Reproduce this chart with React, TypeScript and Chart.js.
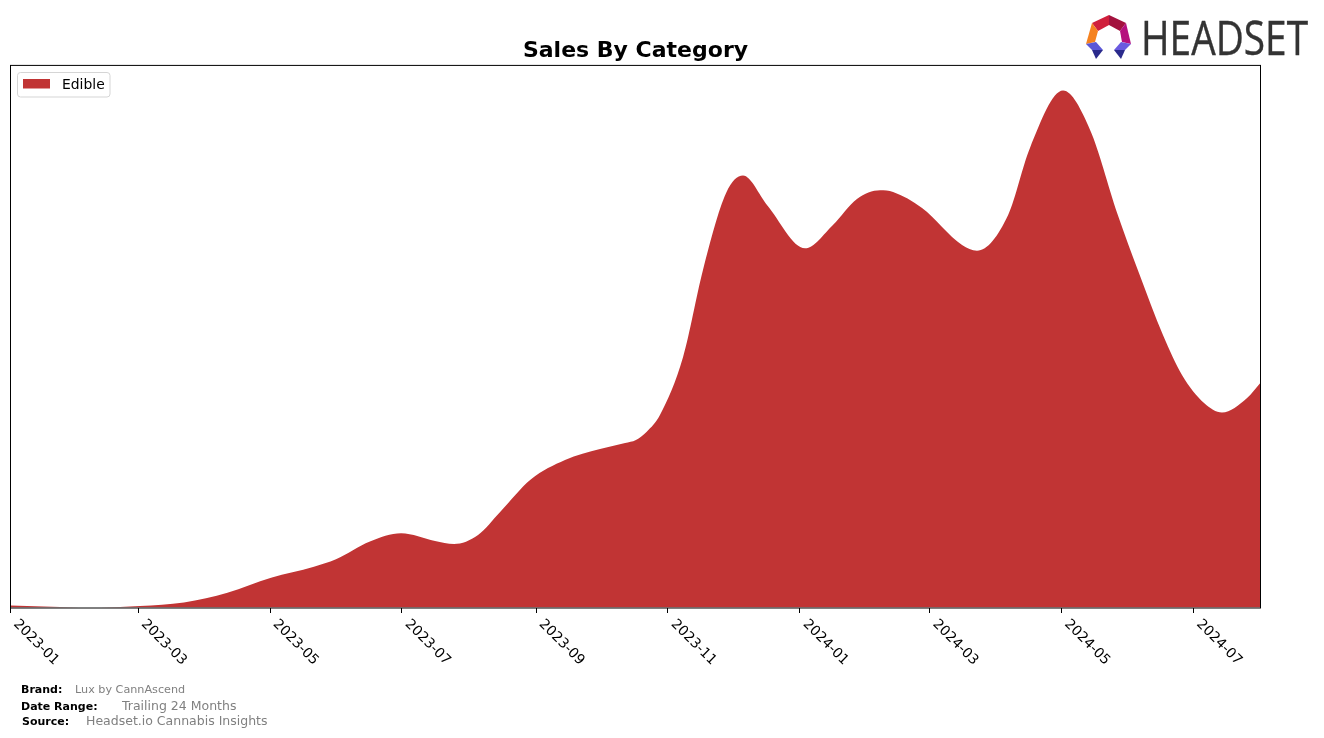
import React, { useEffect, useRef } from "react";
import { Chart, registerables } from "chart.js";

Chart.register(...registerables);

const seriesName = "Edible";
const chartTitle = "Sales By Category";
const tickLabels = ["2023-01", "2023-03", "2023-05", "2023-07", "2023-09", "2023-11", "2024-01", "2024-03", "2024-05", "2024-07"];
const sampleDays = [0, 22.9, 41.4, 59.9, 80.2, 90.4, 100.3, 120.5, 140.3, 150.5, 166.2, 180.6, 196.3, 205.1, 216.2, 226.4, 240.7, 256.4, 272.6, 284.2, 289.2, 294.2, 300.3, 311, 320.2, 330.9, 338.7, 349.8, 367.4, 380.3, 391.4, 402.1, 408.1, 421.5, 440, 446.9, 461.3, 471.4, 486.7, 499.2, 511.7, 521.8, 532.9, 541.7, 551.9, 560.2, 571.8, 578];
const sales = [1.8, 0.3, 0, 1.3, 4.8, 9, 14.6, 29.6, 40.6, 48, 65.8, 74, 66.3, 63.3, 72.3, 95.3, 128, 147.3, 158.3, 164.3, 167.3, 175.6, 192.3, 250.3, 337.3, 414.3, 431.6, 402.3, 359, 382.3, 408.3, 417, 415.3, 399.3, 362.3, 356.6, 392.3, 459.3, 516.6, 477.3, 394.3, 334.3, 272.3, 232.3, 204.3, 194.8, 209.3, 224.6];
const brand = "Lux by CannAscend";
const dateRange = "Trailing 24 Months";
const source = "Headset.io Cannabis Insights";

const FONT = "'DejaVu Sans', sans-serif";
const FILL = "#c13434";
const dayOf = (label: string) => (Date.parse(label + "-01T00:00:00Z") - Date.parse("2023-01-01T00:00:00Z")) / 864e5;

const frameAndLabels = {
  id: "frameAndLabels",
  afterDraw(chart: any) {
    const { ctx, chartArea: a, scales } = chart;
    ctx.save();
    ctx.strokeStyle = "#000";
    ctx.lineWidth = 1;
    ctx.strokeRect(a.left, a.top, a.right - a.left, a.bottom - a.top);

    ctx.fillStyle = "#000";
    ctx.font = `13.9px ${FONT}`;
    ctx.textAlign = "left";
    ctx.textBaseline = "top";
    scales.x.ticks.forEach((t: any) => {
      ctx.save();
      ctx.translate(scales.x.getPixelForValue(t.value) + 10, a.bottom + 9);
      ctx.rotate(Math.PI / 4);
      ctx.fillText(t.label, 0, 0);
      ctx.restore();
    });

    ctx.beginPath();
    ctx.roundRect(17.5, 72.5, 92.5, 24.5, 3);
    ctx.fillStyle = "rgba(255,255,255,0.8)";
    ctx.fill();
    ctx.strokeStyle = "#d5d5d5";
    ctx.stroke();
    ctx.fillStyle = chart.data.datasets[0].backgroundColor;
    ctx.fillRect(23, 79, 27, 9.5);
    ctx.fillStyle = "#000";
    ctx.textBaseline = "middle";
    ctx.fillText(chart.data.datasets[0].label, 62, 85);
    ctx.restore();
  },
};

export default function App() {
  const ref = useRef<HTMLCanvasElement>(null);
  useEffect(() => {
    const chart = new Chart(ref.current as HTMLCanvasElement, {
      type: "line",
      data: {
        datasets: [
          {
            label: seriesName,
            data: sampleDays.map((d, i) => ({ x: d, y: sales[i] })),
            backgroundColor: FILL,
            borderWidth: 0,
            pointRadius: 0,
            fill: "origin",
            cubicInterpolationMode: "monotone",
          },
        ],
      },
      options: {
        responsive: false,
        animation: false,
        devicePixelRatio: 1,
        layout: { padding: { left: 10.5, right: 63.5, top: 38, bottom: 130 } },
        plugins: {
          legend: { display: false },
          tooltip: { enabled: false },
          title: {
            display: true,
            text: chartTitle,
            fullSize: false,
            color: "#000",
            font: { family: FONT, size: 22, weight: "bold" },
            padding: { top: 0, bottom: 1 },
          },
        },
        scales: {
          x: {
            type: "linear",
            min: 0,
            max: 578,
            afterBuildTicks: (s: any) => {
              s.ticks = tickLabels.map((l) => ({ value: dayOf(l), label: l }));
            },
            afterTickToLabelConversion: (s: any) => {
              s.ticks.forEach((t: any, i: number) => (t.label = tickLabels[i]));
            },
            afterFit: (s: any) => {
              s.height = 0;
            },
            border: { display: false },
            grid: { drawOnChartArea: false, drawTicks: true, tickLength: 5, tickColor: "#000", tickWidth: 1 },
            ticks: { display: false, autoSkip: false },
          },
          y: { display: false, min: -0.7, max: 541.8 },
        },
      },
      plugins: [frameAndLabels],
    } as any);
    return () => chart.destroy();
  }, []);

  const text = (left: number, top: number, size: number, bold: boolean, s: string) => (
    <div
      style={{
        position: "absolute",
        left,
        top,
        fontFamily: FONT,
        fontSize: size,
        lineHeight: "14px",
        fontWeight: bold ? 700 : 400,
        color: bold ? "#000" : "#808080",
        whiteSpace: "nowrap",
      }}
    >
      {s}
    </div>
  );

  return (
    <div style={{ position: "absolute", left: 0, top: 0, width: 1324, height: 738, overflow: "hidden", background: "#fff" }}>
      <canvas ref={ref} width={1324} height={738} style={{ position: "absolute", left: 0, top: 0, display: "block" }} />
      {text(21, 683, 11, true, "Brand:")}
      {text(75, 683, 11.2, false, brand)}
      {text(21, 700, 11, true, "Date Range:")}
      {text(122, 699, 12.5, false, dateRange)}
      {text(22, 715, 11, true, "Source:")}
      {text(86, 714, 12.5, false, source)}
      <svg width={254} height={65} viewBox="1070 5 254 65" style={{ position: "absolute", left: 1070, top: 5 }}>
        <polygon points="1092,23 1109,15 1109,25 1098,31" fill="#d01f3c" />
        <polygon points="1109,15 1126,23 1120,31 1109,25" fill="#a3123e" />
        <polygon points="1092,23 1098,31 1095,42 1086,44" fill="#f58220" />
        <polygon points="1126,23 1131,44 1122,42 1120,31" fill="#b5107e" />
        <polygon points="1086,44 1096,42 1103,50 1092,50" fill="#5b57d6" />
        <polygon points="1092,50 1103,50 1096,59" fill="#2a2a8c" />
        <polygon points="1131,44 1121,42 1114,50 1125,50" fill="#6a5ae0" />
        <polygon points="1125,50 1114,50 1121,59" fill="#2a2a8c" />
        <text x={1141} y={55} fontFamily="'Open Sans'" fontWeight={400} fontSize={48} fill="#333" stroke="#333" strokeWidth={0.4} textLength={167} lengthAdjust="spacingAndGlyphs">
          HEADSET
        </text>
      </svg>
    </div>
  );
}
